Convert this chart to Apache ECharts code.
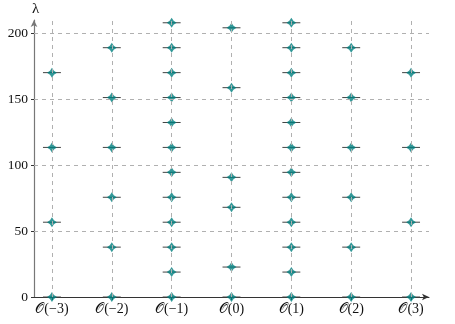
<!DOCTYPE html>
<html><head><meta charset="utf-8">
<script src="https://cdn.jsdelivr.net/npm/echarts@6/dist/echarts.min.js"></script>
<style>html,body{margin:0;padding:0;background:#fff}#c{width:455px;height:324px}</style>
</head><body><div id="c"></div>
<script>
// Orders (x positions) and tick labels
const orders = [-3, -2, -1, 0, 1, 2, 3];
const orderLabels = ['𝒪(−3)', '𝒪(−2)', '𝒪(−1)', '𝒪(0)', '𝒪(1)', '𝒪(2)', '𝒪(3)'];
const yTicks = [0, 50, 100, 150, 200];
// lambda values per order
const lambdaM3 = [0, 56.7, 113.4, 170.1];
const lambdaM2 = [0, 37.8, 75.6, 113.4, 151.2, 189.0];
const lambdaM1 = [0, 18.9, 37.8, 56.7, 75.6, 94.5, 113.4, 132.3, 151.2, 170.1, 189.0, 207.9];
const lambda0  = [0, 22.7, 68.0, 90.7, 158.7, 204.1];
const lambdaP1 = [0, 18.9, 37.8, 56.7, 75.6, 94.5, 113.4, 132.3, 151.2, 170.1, 189.0, 207.9];
const lambdaP2 = [0, 37.8, 75.6, 113.4, 151.2, 189.0];
const lambdaP3 = [0, 56.7, 113.4, 170.1];
const xErr = 0.15;

const groups = [lambdaM3, lambdaM2, lambdaM1, lambda0, lambdaP1, lambdaP2, lambdaP3];
const pts = [];
groups.forEach((g, i) => g.forEach(v => pts.push([orders[i], v])));

const chart = echarts.init(document.getElementById('c'));
const font = "'Liberation Serif','DejaVu Serif',serif";
chart.setOption({
  animation: false,
  grid: {left: 34, right: 26, top: 20, bottom: 27, containLabel: false},
  xAxis: {
    type: 'value', min: -3.3, max: 3.3,
    splitLine: {show: false},
    axisLine: {show: true, onZero: false, lineStyle: {color: '#333', width: 1}, symbol: ['none', 'arrow'], symbolSize: [5, 7]},
    axisTick: {show: true, customValues: orders, length: 3, inside: false, lineStyle: {color: '#333'}},
    axisLabel: {customValues: orders, formatter: v => orderLabels[orders.indexOf(Math.round(v))] || '',
      color: '#111', fontFamily: font, fontSize: 14, margin: 5}
  },
  yAxis: {
    type: 'value', min: 0, max: 210,
    name: 'λ', nameLocation: 'end', nameGap: 3,
    nameTextStyle: {fontFamily: font, fontSize: 15, color: '#111', align: 'left', padding: [0, 0, 0, -2]},
    splitLine: {show: false},
    axisLine: {show: true, onZero: false, lineStyle: {color: '#777', width: 1.2}, symbol: ['none', 'arrow'], symbolSize: [5, 7]},
    axisTick: {show: true, customValues: yTicks, length: 3, lineStyle: {color: '#333'}},
    axisLabel: {customValues: yTicks, color: '#111', fontFamily: font, fontSize: 13.5, margin: 6}
  },
  series: [
    {
      type: 'line', data: [], silent: true,
      markLine: {
        silent: true, symbol: 'none', label: {show: false},
        lineStyle: {type: [4, 4], color: '#b0b0b0', width: 1},
        data: orders.map(o => ({xAxis: o})).concat(yTicks.slice(1).map(t => ({yAxis: t})))
      }
    },
    {
      type: 'custom', data: pts, silent: true, z: 3,
      renderItem: (params, api) => {
        const a = api.coord([api.value(0) - xErr, api.value(1)]);
        const b = api.coord([api.value(0) + xErr, api.value(1)]);
        return {type: 'line', shape: {x1: a[0], y1: a[1], x2: b[0], y2: b[1]},
          style: {stroke: '#444', lineWidth: 1}};
      }
    },
    {
      type: 'scatter', data: pts, z: 4,
      symbol: 'path://M0,-10 L4,-4 L10,0 L4,4 L0,10 L-4,4 L-10,0 L-4,-4 Z',
      symbolSize: 10,
      itemStyle: {color: '#008080'}
    }
  ]
});
</script></body></html>
